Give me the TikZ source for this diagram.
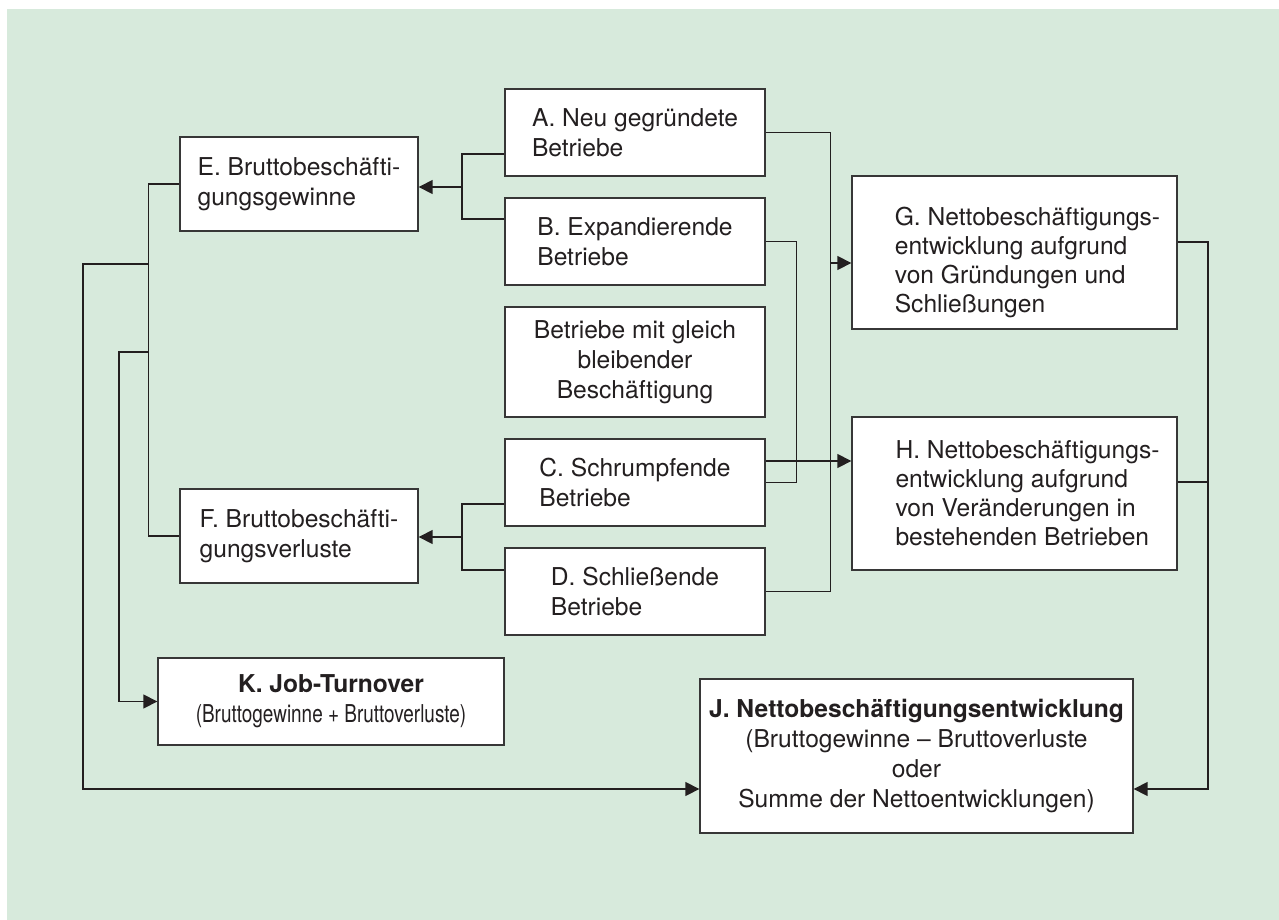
\documentclass[tikz,border=0pt]{standalone}
\usepackage{fontspec}
\setmainfont{TeX Gyre Heros}
\usetikzlibrary{arrows.meta}
\definecolor{bggreen}{RGB}{215,234,220}
\definecolor{ink}{RGB}{35,31,32}
\definecolor{frame}{RGB}{55,55,55}
\newcommand\ind{\hspace*{0.52cm}}

\begin{document}
\begin{tikzpicture}[x=0.02cm,y=-0.02cm,>={Triangle[length=0.28cm,width=0.28cm]}]
\tikzstyle{box}=[draw=frame,fill=white,line width=0.8pt,text=ink,font=\fontsize{14}{17}\selectfont,inner sep=0pt]
\tikzstyle{firm}=[box,align=left,minimum width=5.2cm,minimum height=1.74cm]
\tikzstyle{gross}=[box,align=left,minimum width=4.76cm,minimum height=1.88cm]
\tikzstyle{net}=[box,align=left,minimum width=6.5cm,minimum height=3.06cm,font=\fontsize{14}{16.5}\selectfont]
\tikzstyle{total}=[box,align=center]
\tikzstyle{link}=[draw=ink,line width=0.8pt]

\useasboundingbox (0,0) rectangle (1279,920);
\fill[bggreen] (7,9) rectangle (1279,920);

\node[firm] (A) at (635,132.5) {A. Neu gegründete\\Betriebe};
\node[firm] (B) at (635,241.5) {B. Expandierende\\Betriebe};
\node[firm,align=center,minimum height=2.2cm] (M) at (635,362) {Betriebe mit gleich\\bleibender\\Beschäftigung};
\node[firm] (C) at (635,482.5) {C. Schrumpfende\\Betriebe};
\node[firm] (D) at (635,591.5) {D. Schließende\\Betriebe};
\node[gross] (E) at (299,184) {E. Bruttobeschäfti-\\gungsgewinne};
\node[gross] (F) at (299,536) {F. Bruttobeschäfti-\\gungsverluste};
\node[net] (G) at (1014.5,252.5) {\rule{0pt}{22pt}\ind G. Nettobeschäftigungs-\\\ind entwicklung aufgrund\\\ind von Gründungen und\\\ind Schließungen};
\node[net] (H) at (1014.5,493.5) {\ind H. Nettobeschäftigungs-\\\ind entwicklung aufgrund\\\ind von Veränderungen in\\\ind bestehenden Betrieben};
\node[total,minimum width=6.92cm,minimum height=1.74cm] (K) at (331,701.5) {\textbf{K. Job-Turnover}\\\scalebox{0.77}[1]{(Bruttogewinne + Bruttoverluste)}};
\node[total,minimum width=8.66cm,minimum height=3.08cm] (J) at (916.5,756) {\textbf{J. Nettobeschäftigungsentwicklung}\\(Bruttogewinne – Bruttoverluste\\oder\\Summe der Nettoentwicklungen)};

\coordinate (ad) at (830,263);
\coordinate (ch) at (800,461);
\coordinate (ab) at (462,187);
\coordinate (cd) at (462,537);
\coordinate (ef1) at (149,264);
\coordinate (ef2) at (149,352);
\coordinate (kin) at (119,701.5);
\coordinate (jin) at (83,789);
\coordinate (jr) at (1208,789);

\draw[link] (A.east) -- ++(65,0) |- (D.east);
\draw[link,->] (ad) -- (ad -| G.west);
\draw[link] (B.east) -- ++(31,0) |- (C.east);
\draw[link,->] (C.east |- ch) -- (ch -| H.west);

\draw[link] ([yshift=-0.43cm]A.west) -| (ab) |- ([yshift=0.45cm]B.west);
\draw[link,->] (ab) -- (ab -| E.east);
\draw[link] ([yshift=-0.43cm]C.west) -| (cd) |- ([yshift=0.43cm]D.west);
\draw[link,->] (cd) -- (cd -| F.east);

\draw[link] (E.west) -- ++(-31,0) |- (F.west);
\draw[link,->] (ef1) -| (jin) -- (jin -| J.west);
\draw[link,->] (ef2) -| (kin) -- (K.west);

\draw[link,->] ([yshift=0.21cm]G.east) -| (jr) -- (jr -| J.east);
\draw[link] ([yshift=0.23cm]H.east) -- ++(31,0);
\end{tikzpicture}
\end{document}
